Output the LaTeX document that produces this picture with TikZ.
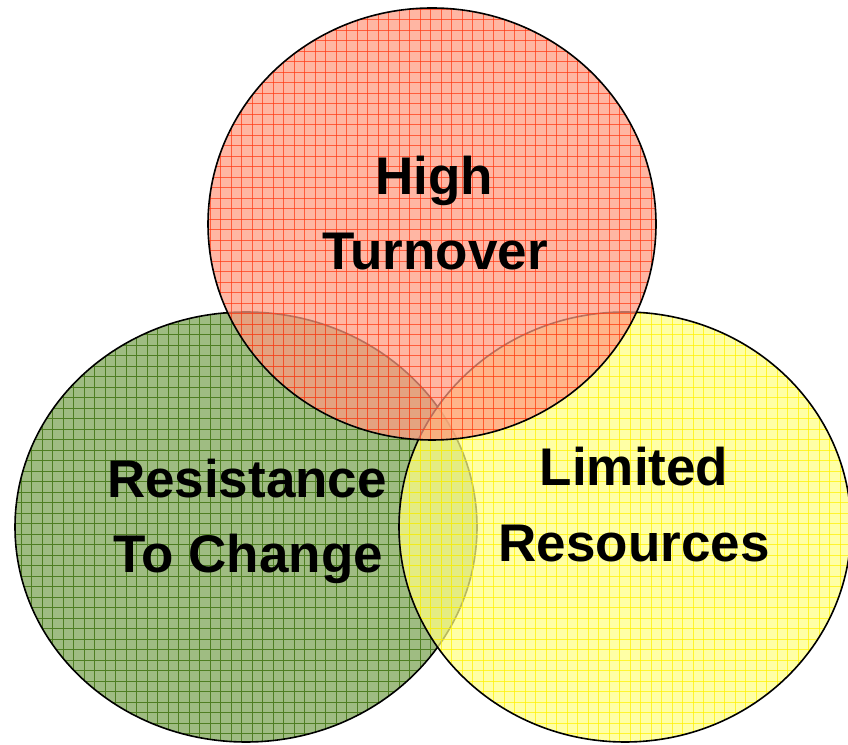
\documentclass[tikz,border=0pt]{standalone}
\usepackage{fontspec}
\setmainfont{Liberation Sans}
\usetikzlibrary{positioning}

\definecolor{redfill}{HTML}{FF9A80}
\definecolor{redgrid}{HTML}{FF3A14}
\definecolor{greenfill}{HTML}{9FBC82}
\definecolor{greengrid}{HTML}{4F7E22}
\definecolor{yellowfill}{HTML}{FFFF82}
\definecolor{yellowgrid}{HTML}{FFF200}

\tikzset{
  rim/.style={draw=black, line width=1.6pt},
  word/.style={font=\fontsize{53}{60}\selectfont\bfseries, anchor=base, inner sep=0pt}
}

\begin{document}
\begin{tikzpicture}[x=1pt, y=1pt]

	\useasboundingbox (0,0) rectangle (848,744);

	% Resistance to change (bottom left)
	\fill[greenfill] (246,217) ellipse [x radius=231, y radius=215];
	\begin{scope}
		\clip (246,217) ellipse [x radius=231, y radius=215];
		\foreach \g in {0,10.5,...,850} {
			\draw[greengrid, line width=0.7pt] (\g,0) -- (\g,744);
			\draw[greengrid, line width=0.7pt] (0,\g) -- (848,\g);
		}
	\end{scope}
	\draw[rim] (246,217) ellipse [x radius=231, y radius=215];

	% Limited resources (bottom right)
	\begin{scope}[opacity=0.72]
		\fill[yellowfill] (625,217) ellipse [x radius=226, y radius=215];
		\begin{scope}
			\clip (625,217) ellipse [x radius=226, y radius=215];
			\foreach \g in {0,10.5,...,850} {
				\draw[yellowgrid, line width=0.8pt] (\g,0) -- (\g,744);
				\draw[yellowgrid, line width=0.8pt] (0,\g) -- (848,\g);
			}
		\end{scope}
	\end{scope}
	\draw[rim] (625,217) ellipse [x radius=226, y radius=215];

	% High turnover (top)
	\begin{scope}[opacity=0.72]
		\fill[redfill] (432,520) ellipse [x radius=224, y radius=216];
		\begin{scope}
			\clip (432,520) ellipse [x radius=224, y radius=216];
			\foreach \g in {0,10.5,...,850} {
				\draw[redgrid, line width=0.8pt] (\g,0) -- (\g,744);
				\draw[redgrid, line width=0.8pt] (0,\g) -- (848,\g);
			}
		\end{scope}
	\end{scope}
	\draw[rim] (432,520) ellipse [x radius=224, y radius=216];

	% Labels
	\node[word] (high) at (434,549) {High};
	\node[word] (turnover) at (435,474) {Turnover};
	\node[word] (resist) at (247,246) {Resistance};
	\node[word] (tochange) at (248,171) {To Change};
	\node[word] (limited) at (634,258) {Limited};
	\node[word] (resources) at (634,182) {Resources};

\end{tikzpicture}
\end{document}
